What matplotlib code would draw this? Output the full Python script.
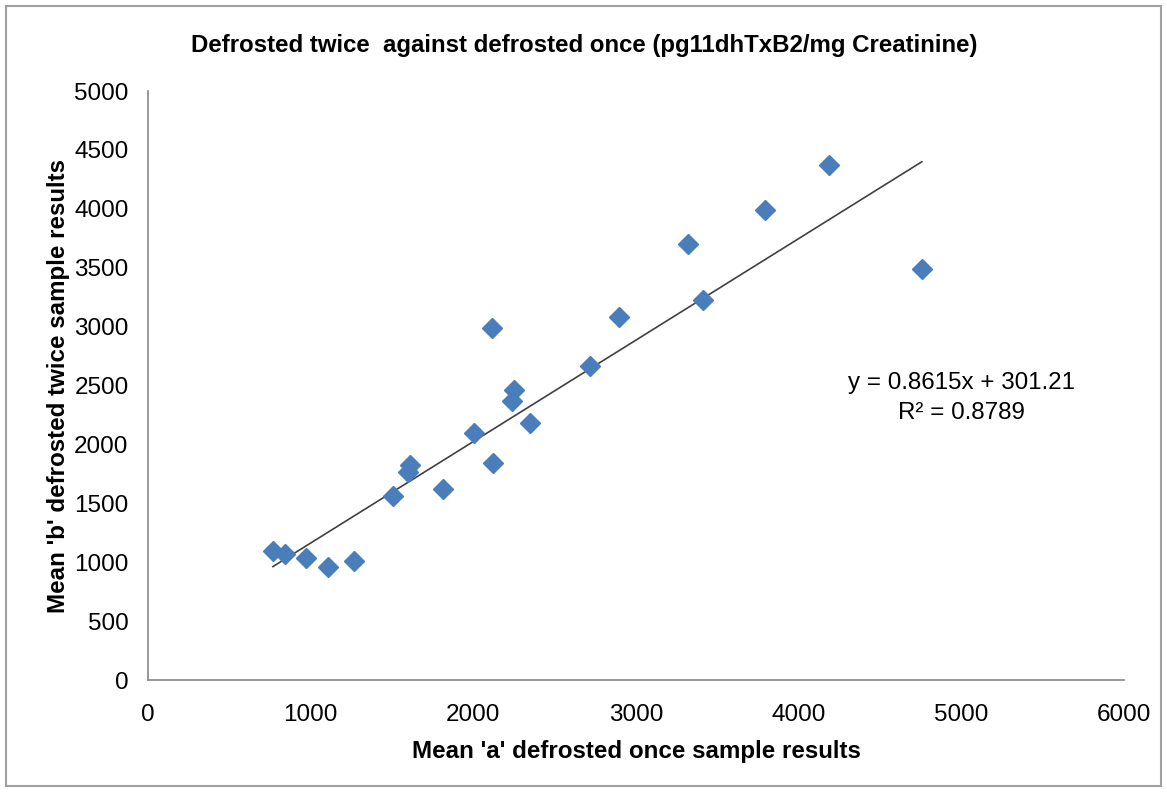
import matplotlib.pyplot as plt
import numpy as np

plt.rcParams["font.family"] = ["Liberation Sans", "DejaVu Sans"]

# Valores
defrosted_once = [768, 842, 971, 1106, 1266, 1506, 1598, 1610, 1813, 2004, 2120,
                  2114, 2237, 2250, 2348, 2717, 2895, 3319, 3411, 3792, 4186, 4757]
defrosted_twice = [1095, 1070, 1036, 959, 1010, 1562, 1766, 1825, 1621, 2097, 1842,
                   2988, 2368, 2462, 2182, 2666, 3081, 3701, 3226, 3990, 4372, 3489]

slope = 0.8615
intercept = 301.21
r2 = 0.8789

fig = plt.figure(figsize=(11.67, 7.92), dpi=100)
ax = fig.add_axes([0.1268, 0.1414, 0.8364, 0.7437])

# Linha de tendência
xs = np.array([min(defrosted_once), max(defrosted_once)])
ax.plot(xs, slope * xs + intercept, color="#404040", linewidth=1.2, zorder=2)

ax.plot(defrosted_once, defrosted_twice, linestyle="none", marker="D",
        markersize=10.5, color="#4a7ebb", markeredgecolor="#4a7ebb", zorder=3)

ax.set_xlim(0, 6000)
ax.set_ylim(0, 5000)
ax.set_xticks(range(0, 6001, 1000))
ax.set_yticks(range(0, 5001, 500))
ax.tick_params(length=0, labelsize=17.5)
ax.tick_params(axis="x", pad=17)
ax.tick_params(axis="y", pad=14)

for side in ["top", "right"]:
    ax.spines[side].set_visible(False)
for side in ["left", "bottom"]:
    ax.spines[side].set_color("#868686")
    ax.spines[side].set_linewidth(1.2)

ax.set_xlabel("Mean 'a' defrosted once sample results", fontsize=17.4,
              fontweight="bold", labelpad=10)
ax.set_ylabel("Mean 'b' defrosted twice sample results", fontsize=17.4,
              fontweight="bold", labelpad=3)
fig.text(0.501, 0.942, "Defrosted twice  against defrosted once (pg11dhTxB2/mg Creatinine)",
         ha="center", va="center", fontsize=17.3, fontweight="bold")

ax.text(5000, 2395, f"y = {slope}x + {intercept}\nR² = {r2}", ha="center", va="center",
        multialignment="center", fontsize=17.4, linespacing=1.45)

# Moldura externa
fig.patches.append(plt.Rectangle((0.005, 0.008), 0.99, 0.985, transform=fig.transFigure,
                                 fill=False, edgecolor="#a0a0a0", linewidth=1.5))

fig.savefig("out.png", dpi=100)
